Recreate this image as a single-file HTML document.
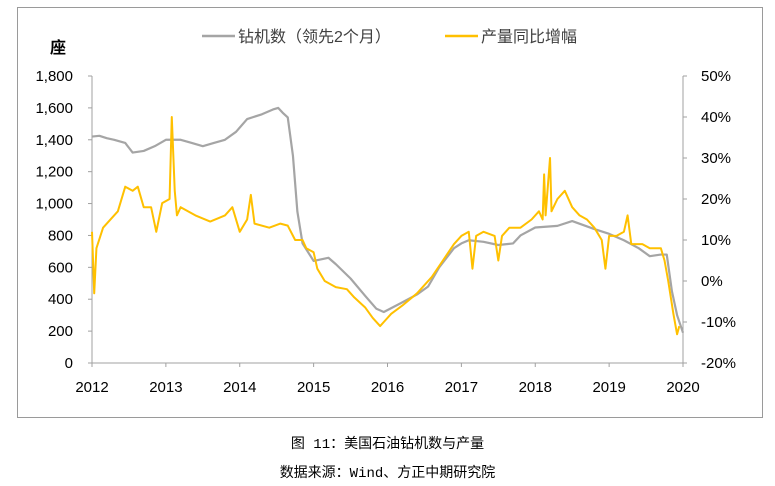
<!DOCTYPE html>
<html><head><meta charset="utf-8">
<style>
body{margin:0;background:#fff;width:775px;height:486px;overflow:hidden;font-family:"Liberation Sans","Noto Sans CJK SC",sans-serif;}
.cap{position:absolute;left:0;width:775px;text-align:center;font-size:14px;color:#000;font-family:"Liberation Mono","Noto Sans CJK SC",monospace;}
</style></head>
<body>
<svg id="chart" width="775" height="486" style="position:absolute;left:0;top:0">
<rect x="17.5" y="7.5" width="745" height="410" fill="#fff" stroke="#9a9a9a" stroke-width="1"/>
<g id="axes"></g>
<g id="series"></g>
<g>
<line x1="202" y1="36" x2="235" y2="36" stroke="#a5a5a5" stroke-width="2.5"/>
<text x="238" y="42" font-size="16" fill="#404040">钻机数（领先2个月）</text>
<line x1="445" y1="36" x2="478" y2="36" stroke="#ffc000" stroke-width="2.5"/>
<text x="481" y="42" font-size="16" fill="#404040">产量同比增幅</text>
</g>
<text x="50" y="53" font-size="16" font-weight="bold" fill="#000">座</text>
</svg>
<div class="cap" style="top:433px">图 11：美国石油钻机数与产量</div>
<div class="cap" style="top:462px">数据来源：Wind、方正中期研究院</div>
<script>
const years=[2012,2013,2014,2015,2016,2017,2018,2019,2020];
const leftTicks=[0,200,400,600,800,1000,1200,1400,1600,1800];
const rightTicks=[-20,-10,0,10,20,30,40,50];
const rigDates=[2012.0,2012.1,2012.2,2012.3,2012.45,2012.55,2012.7,2012.85,2013.0,2013.2,2013.35,2013.5,2013.65,2013.8,2013.95,2014.1,2014.3,2014.45,2014.52,2014.58,2014.65,2014.72,2014.78,2014.85,2015.0,2015.2,2015.3,2015.5,2015.7,2015.85,2015.95,2016.2,2016.4,2016.55,2016.7,2016.9,2017.0,2017.1,2017.3,2017.5,2017.7,2017.8,2018.0,2018.3,2018.5,2018.8,2019.0,2019.2,2019.4,2019.55,2019.7,2019.78,2019.85,2019.92,2020.0];
const rigCount=[1420,1425,1410,1400,1380,1320,1330,1360,1400,1400,1380,1360,1380,1400,1450,1530,1560,1590,1600,1570,1540,1300,950,750,640,660,620,530,420,340,320,380,430,480,600,720,750,770,760,740,750,800,850,860,890,840,810,770,720,670,680,680,450,300,190];
const prodDates=[2012.0,2012.03,2012.06,2012.15,2012.35,2012.45,2012.55,2012.62,2012.7,2012.8,2012.87,2012.95,2013.05,2013.08,2013.12,2013.15,2013.2,2013.4,2013.6,2013.8,2013.9,2014.0,2014.1,2014.15,2014.2,2014.4,2014.55,2014.65,2014.75,2014.85,2014.9,2015.0,2015.05,2015.15,2015.3,2015.45,2015.55,2015.7,2015.8,2015.9,2015.95,2016.05,2016.2,2016.4,2016.6,2016.75,2016.9,2017.0,2017.1,2017.15,2017.2,2017.3,2017.45,2017.5,2017.55,2017.65,2017.8,2017.95,2018.05,2018.1,2018.12,2018.14,2018.2,2018.22,2018.3,2018.4,2018.5,2018.6,2018.7,2018.8,2018.9,2018.95,2019.0,2019.1,2019.2,2019.25,2019.3,2019.45,2019.55,2019.7,2019.75,2019.8,2019.87,2019.92,2019.95];
const prodYoY=[12,-3,8,13,17,23,22,23,18,18,12,19,20,40,22,16,18,16,14.5,16,18,12,15,21,14,13,14,13.5,10,10,8,7,3,0,-1.5,-2,-4,-6.5,-9,-11,-10,-8,-6,-3,1,5,9,11,12,3,11,12,11,5,11,13,13,15,17,15,26,16,30,17,20,22,18,16,15,13,10,3,11,11,12,16,9,9,8,8,5,0,-8,-13,-11];
const X0=92,X1=683,Y0=363,Y1=76;
const xs=v=>X0+(v-2012)/(2020-2012)*(X1-X0);
const yl=v=>Y0-v/1800*(Y0-Y1);
const yr=v=>Y0-(v+20)/70*(Y0-Y1);
const NS="http://www.w3.org/2000/svg";
const axes=document.getElementById('axes'),series=document.getElementById('series');
function mk(t,a,p){const e=document.createElementNS(NS,t);for(const k in a)e.setAttribute(k,a[k]);p.appendChild(e);return e;}
let e;
e=mk('line',{x1:X0,y1:Y1,x2:X0,y2:Y0,stroke:'#a0a0a0'},axes);


e=mk('line',{x1:X1,y1:Y1,x2:X1,y2:Y0,stroke:'#a0a0a0'},axes);


e=mk('line',{x1:X0,y1:Y0,x2:X1,y2:Y0,stroke:'#a0a0a0'},axes);


leftTicks.forEach(v=>{const y=yl(v);mk('line',{x1:X0-4,y1:y,x2:X0,y2:y,stroke:'#a0a0a0'},axes);
const t=mk('text',{x:73,y:y+5,'text-anchor':'end','font-size':15,fill:'#000'},axes);t.textContent=v.toLocaleString('en-US');

});
rightTicks.forEach(v=>{const y=yr(v);mk('line',{x1:X1,y1:y,x2:X1+4,y2:y,stroke:'#a0a0a0'},axes);
const t=mk('text',{x:701,y:y+5,'font-size':15,fill:'#000'},axes);t.textContent=v+'%';

});
years.forEach(v=>{const x=xs(v);mk('line',{x1:x,y1:Y0,x2:x,y2:Y0+4,stroke:'#a0a0a0'},axes);
const t=mk('text',{x:x,y:Y0+29,'text-anchor':'middle','font-size':15,fill:'#000'},axes);t.textContent=v;

});
e=mk('polyline',{points:rigDates.map((d,i)=>xs(d)+','+yl(rigCount[i])).join(' '),fill:'none',stroke:'#a5a5a5','stroke-width':2.2,'stroke-linejoin':'round'},series);


e=mk('polyline',{points:prodDates.map((d,i)=>xs(d)+','+yr(prodYoY[i])).join(' '),fill:'none',stroke:'#ffc000','stroke-width':2,'stroke-linejoin':'round'},series);


</script>
</body></html>
